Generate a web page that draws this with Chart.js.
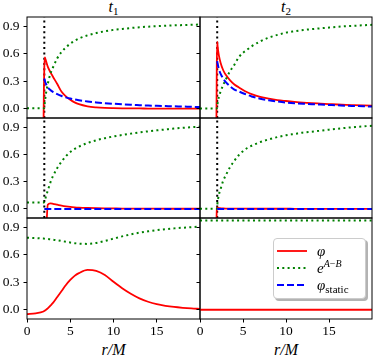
<!DOCTYPE html>
<html>
<head>
<meta charset="utf-8">
<script src="https://cdn.jsdelivr.net/npm/chart.js@4.4.0/dist/chart.umd.min.js"></script>
<style>
body{margin:0;background:#fff;width:374px;height:360px;overflow:hidden;position:relative;font-family:"Liberation Serif",serif;color:#000}
canvas{position:absolute}
.lab{position:absolute;text-align:center;font-size:16px;line-height:16px;font-style:italic}
.lab sub{font-style:normal;font-size:11px;vertical-align:-3px;line-height:0}
#legend{position:absolute;left:273px;top:238px;width:93px;height:61px;background:#fff;border:1px solid #ccc;border-radius:4px;box-shadow:2px 2px 0 #b3b3b3;box-sizing:border-box}
#legend .row{position:absolute;left:3px;height:16px;display:flex;align-items:center;font-size:15px}
#legend .row span{margin-left:10px;white-space:nowrap}
#legend sup{font-size:10px;vertical-align:6px;line-height:0}
#legend sub{font-size:11px;vertical-align:-3px;line-height:0}
</style>
</head>
<body>
<div class="lab" style="left:27px;width:173px;top:-1px"><i>t</i><sub>1</sub></div>
<div class="lab" style="left:200px;width:172px;top:-1px"><i>t</i><sub>2</sub></div>
<div class="lab" style="left:27px;width:173px;top:342px">r/M</div>
<div class="lab" style="left:200px;width:172px;top:342px">r/M</div>

<canvas id="c1a" width="204" height="119" style="left:0;top:8px"></canvas>
<canvas id="c2a" width="190" height="119" style="left:186px;top:8px"></canvas>
<canvas id="c1b" width="204" height="118" style="left:0;top:109px"></canvas>
<canvas id="c2b" width="190" height="118" style="left:186px;top:109px"></canvas>
<canvas id="c1c" width="204" height="139" style="left:0;top:209px"></canvas>
<canvas id="c2c" width="190" height="139" style="left:186px;top:209px"></canvas>
<div id="legend"></div>

<script>
// radial grid r/M
const r = [0, 1, 1.9, 1.95, 2, 2.05, 2.1, 2.2, 2.4, 2.7, 3, 3.5, 4, 4.5, 5, 5.5, 6, 7, 8, 9, 10, 11, 12, 13, 14, 15, 16, 17, 18, 19, 20];
const rEdge = [2, 20];
const rFull = [0, 20];
const horizonX = [2, 2];
const horizonY = [-0.1, 1.0];

const xTicks = [0, 5, 10, 15];
const yTicks = [0, 0.3, 0.6, 0.9];

// row 1, t1
const phi1a = [null,null,-0.3,0.2,0.45,0.56,0.55,0.52,0.46,0.4,0.35,0.27,0.185,0.135,0.098,0.07,0.05,0.027,0.016,0.01,0.007,0.005,0.004,0.004,0.003,0.003,0.003,0.002,0.002,0.002,0.002];
const expAB1a = [0.005,0.005,0.005,0.005,0.01,0.06,0.1,0.17,0.27,0.38,0.45,0.55,0.62,0.67,0.71,0.74,0.765,0.8,0.825,0.845,0.86,0.87,0.88,0.888,0.895,0.9,0.905,0.909,0.912,0.915,0.918];
const static1a = [null,null,null,null,0.33,0.31,0.295,0.27,0.235,0.205,0.185,0.16,0.14,0.125,0.112,0.102,0.094,0.08,0.07,0.062,0.055,0.049,0.044,0.04,0.036,0.033,0.03,0.027,0.025,0.022,0.02];
// row 1, t2
const phi2a = [null,null,-0.3,0.45,0.73,0.68,0.64,0.58,0.5,0.42,0.37,0.31,0.265,0.235,0.205,0.18,0.16,0.13,0.11,0.095,0.085,0.076,0.068,0.062,0.057,0.052,0.047,0.043,0.04,0.037,0.034];
const expAB2a = [0.003,0.003,0.003,0.003,0.02,0.06,0.09,0.13,0.19,0.26,0.32,0.41,0.48,0.56,0.61,0.645,0.68,0.735,0.775,0.805,0.83,0.845,0.858,0.868,0.877,0.885,0.893,0.9,0.905,0.91,0.915];
const static2a = [null,null,null,null,0.52,0.49,0.47,0.43,0.38,0.33,0.29,0.245,0.21,0.19,0.17,0.152,0.135,0.11,0.093,0.08,0.069,0.061,0.055,0.05,0.046,0.042,0.038,0.034,0.031,0.028,0.025];
// row 2, t1
const phi1b = [null,null,null,null,null,null,null,-0.3,0.045,0.06,0.056,0.046,0.036,0.028,0.022,0.018,0.015,0.011,0.008,0.006,0.005,0.004,0.004,0.003,0.003,0.003,0.002,0.002,0.002,0.002,0.002];
const expAB1b = [0.07,0.07,0.07,0.072,0.078,0.09,0.105,0.14,0.2,0.29,0.36,0.45,0.52,0.58,0.625,0.66,0.685,0.725,0.755,0.778,0.797,0.813,0.828,0.842,0.853,0.864,0.874,0.884,0.892,0.899,0.905];
const static1b = [0, 0];
// row 2, t2
const phi2b = [null,null,-0.3,0.015,0.016,0.013,0.011,0.009,0.007,0.005,0.004,0.004,0.003,0.003,0.003,0.002,0.002,0.002,0.002,0.002,0.002,0.001,0.001,0.001,0.001,0.001,0.001,0.001,0.001,0.001,0.001];
const expAB2b = [0.003,0.003,0.003,0.003,0.03,0.08,0.11,0.16,0.22,0.31,0.37,0.46,0.53,0.59,0.635,0.67,0.695,0.735,0.765,0.79,0.81,0.825,0.84,0.85,0.86,0.872,0.882,0.892,0.9,0.908,0.915];
const static2b = [0, 0];
// row 3, t1
const phi1c = [-0.047,-0.038,-0.018,-0.015,-0.012,-0.009,-0.006,0.0,0.015,0.045,0.075,0.14,0.205,0.27,0.325,0.37,0.4,0.435,0.425,0.38,0.305,0.235,0.175,0.125,0.088,0.062,0.044,0.031,0.022,0.015,0.01];
const expAB1c = [0.785,0.782,0.776,0.776,0.775,0.775,0.774,0.773,0.771,0.768,0.765,0.758,0.75,0.741,0.733,0.726,0.721,0.718,0.728,0.75,0.775,0.8,0.822,0.84,0.855,0.867,0.878,0.887,0.894,0.9,0.906];
// row 3, t2
const phi2c = [0.001, 0.001];
const expAB2c = [0.972, 0.972];

const styles = {
  phi:     {label: 'φ',        color: '#ff0000', width: 1.8, dash: [],       order: 3},
  expAB:   {label: 'e^(A−B)',  color: '#008000', width: 2,   dash: [2, 3.3], order: 2},
  static:  {label: 'φ_static', color: '#0000ff', width: 2,   dash: [7, 3],   order: 1},
  horizon: {label: '',         color: '#000000', width: 2,   dash: [2, 3.3], order: 4}
};

const tickFont = {family: 'Liberation Serif', size: 13.5};
Chart.defaults.font.family = 'Liberation Serif';
Chart.defaults.color = '#000';

const toXY = (xs, ys) => xs.map((x, i) => ({x: x, y: ys[i]}));

const makeSet = (key, xs, ys) => {
  const s = styles[key];
  return {
    label: s.label,
    data: toXY(xs, ys),
    borderColor: s.color,
    borderWidth: s.width,
    borderDash: s.dash,
    order: s.order,
    fill: false,
    pointRadius: 0,
    tension: key === 'horizon' ? 0 : 0.4,
    cubicInterpolationMode: key === 'horizon' ? 'default' : 'monotone'
  };
};

const frame = {
  id: 'frame',
  afterDatasetsDraw(chart) {
    const a = chart.chartArea, ctx = chart.ctx;
    ctx.save();
    ctx.strokeStyle = '#000';
    ctx.lineWidth = 1;
    ctx.strokeRect(a.left, a.top, a.right - a.left, a.bottom - a.top);
    ctx.restore();
  }
};

function panel(id, datasets, leftCol, showX) {
  const pad = leftCol ? {left: 0, right: 4, top: 9, bottom: 9} : {left: 10, right: 4, top: 9, bottom: 9};
  return new Chart(document.getElementById(id), {
    type: 'line',
    data: {datasets: datasets},
    plugins: [frame],
    options: {
      responsive: false,
      animation: false,
      events: [],
      layout: {padding: pad},
      plugins: {legend: {display: false}, tooltip: {enabled: false}},
      scales: {
        x: {
          type: 'linear', min: 0, max: 20, display: showX,
          afterBuildTicks: s => { s.ticks = xTicks.map(v => ({value: v})); },
          ticks: {font: tickFont, color: '#000', padding: 1, maxRotation: 0},
          grid: {drawOnChartArea: false, tickLength: 3.5, tickColor: '#000', tickWidth: 1},
          border: {display: false},
          afterFit: s => { s.height = showX ? 20 : 0; s.paddingLeft = 0; s.paddingRight = 0; }
        },
        y: {
          type: 'linear', min: -0.1, max: 1.0,
          afterBuildTicks: s => { s.ticks = yTicks.map(v => ({value: v})); },
          ticks: {display: leftCol, font: tickFont, color: '#000', padding: 4, callback: v => Number(v).toFixed(1)},
          grid: {drawOnChartArea: false, tickLength: 3.5, tickColor: '#000', tickWidth: 1},
          border: {display: false},
          afterFit: s => { s.width = leftCol ? 27 : 4; s.paddingTop = 0; s.paddingBottom = 0; }
        }
      }
    }
  });
}

panel('c1a', [
  makeSet('phi', r, phi1a), makeSet('expAB', r, expAB1a), makeSet('static', r, static1a), makeSet('horizon', horizonX, horizonY)
], true, false);
panel('c2a', [
  makeSet('phi', r, phi2a), makeSet('expAB', r, expAB2a), makeSet('static', r, static2a), makeSet('horizon', horizonX, horizonY)
], false, false);
panel('c1b', [
  makeSet('phi', r, phi1b), makeSet('expAB', r, expAB1b), makeSet('static', rEdge, static1b), makeSet('horizon', horizonX, horizonY)
], true, false);
panel('c2b', [
  makeSet('phi', r, phi2b), makeSet('expAB', r, expAB2b), makeSet('static', rEdge, static2b), makeSet('horizon', horizonX, horizonY)
], false, false);
panel('c1c', [
  makeSet('phi', r, phi1c), makeSet('expAB', r, expAB1c)
], true, true);
panel('c2c', [
  makeSet('phi', rFull, phi2c), makeSet('expAB', rFull, expAB2c)
], false, true);

// legend built from the series styles
const legendHtml = {
  phi: '<i>φ</i>',
  expAB: '<i>e</i><sup><i>A</i>−<i>B</i></sup>',
  static: '<i>φ</i><sub>static</sub>'
};
const legend = document.getElementById('legend');
['phi', 'expAB', 'static'].forEach((key, i) => {
  const s = styles[key];
  const row = document.createElement('div');
  row.className = 'row';
  row.style.top = (4 + i * 17) + 'px';
  row.innerHTML = '<svg width="30" height="6"><line x1="0" y1="3" x2="30" y2="3" stroke="' + s.color +
    '" stroke-width="' + s.width + '" stroke-dasharray="' + (s.dash.length ? s.dash.join(' ') : 'none') + '"/></svg>' +
    '<span>' + legendHtml[key] + '</span>';
  legend.appendChild(row);
});
</script>
</body>
</html>
